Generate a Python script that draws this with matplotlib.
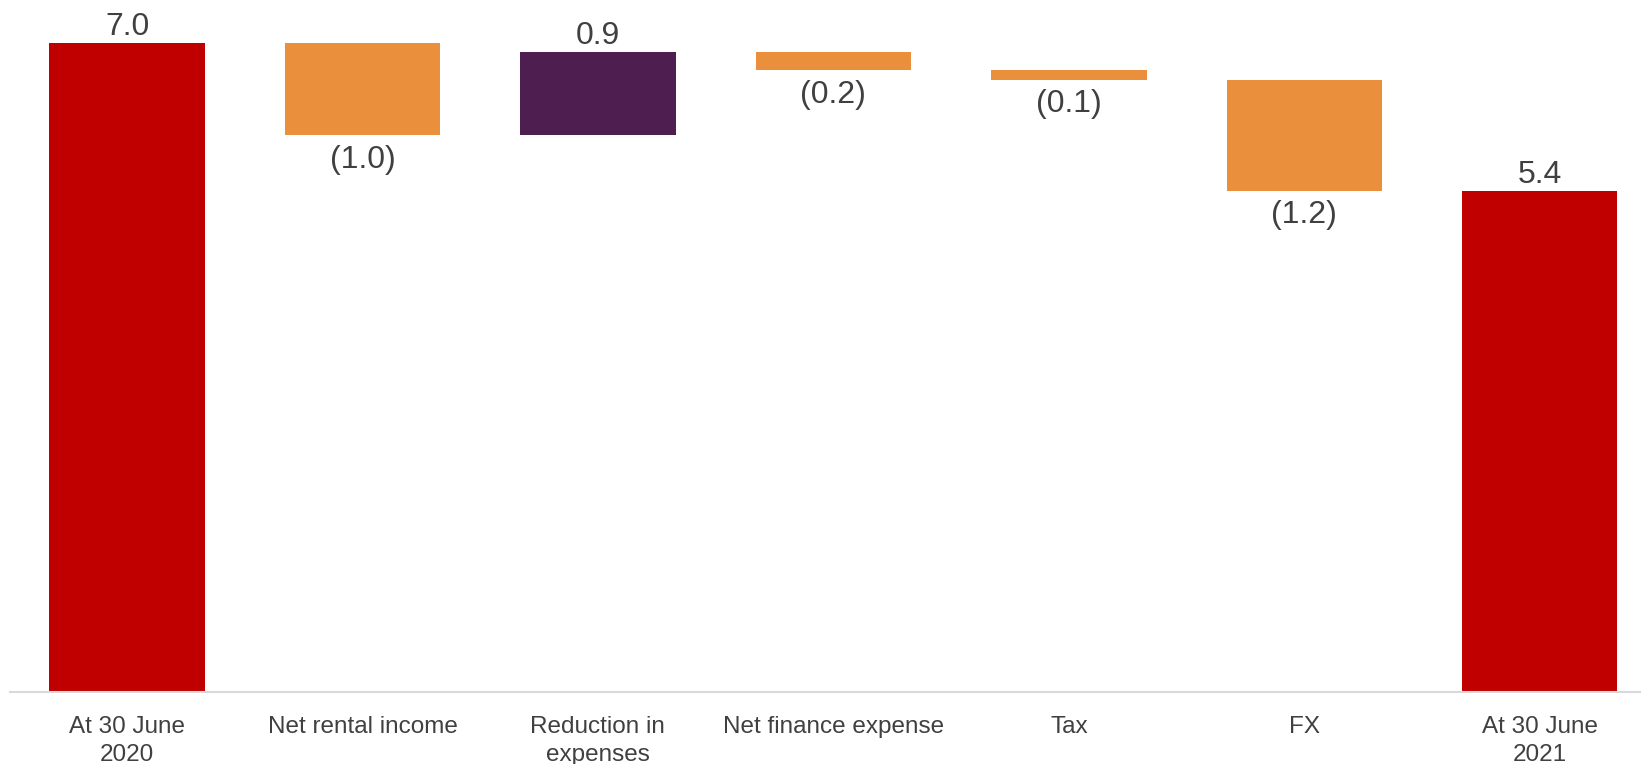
import matplotlib.pyplot as plt
import numpy as np

categories = ["At 30 June\n2020", "Net rental income", "Reduction in\nexpenses",
              "Net finance expense", "Tax", "FX", "At 30 June\n2021"]
changes = [7.0, -1.0, 0.9, -0.2, -0.1, -1.2, 5.4]
is_total = [True, False, False, False, False, False, True]

red = "#C00000"
orange = "#EA8F3B"
purple = "#4F1E50"
text_col = "#404040"

plt.rcParams['font.family'] = ['Liberation Sans', 'DejaVu Sans']

# waterfall bottoms / heights
bottoms, heights, colors = [], [], []
running = 0.0
for v, tot in zip(changes, is_total):
    if tot:
        bottoms.append(0.0)
        heights.append(v)
        colors.append(red)
        running = v
    else:
        if v >= 0:
            bottoms.append(running)
            heights.append(v)
            colors.append(purple)
        else:
            bottoms.append(running + v)
            heights.append(-v)
            colors.append(orange)
        running += v

fig = plt.figure(figsize=(16.41, 7.64), dpi=100)
ax = fig.add_axes([10 / 1641, 72 / 764, 1 - 10 / 1641, 1 - 72 / 764])

x = np.arange(len(categories))
ax.bar(x, heights, bottom=bottoms, width=0.66, color=colors, edgecolor="none")

for xi, v, b, h, tot in zip(x, changes, bottoms, heights, is_total):
    if v >= 0:
        ax.text(xi, b + h + 0.01, f"{v:.1f}", ha="center", va="bottom",
                fontsize=23, color=text_col)
    else:
        ax.text(xi, b - 0.1, f"({-v:.1f})", ha="center", va="top",
                fontsize=23, color=text_col)

ax.set_xlim(-0.497, 6.43)
ax.set_ylim(0, 7.46)
ax.set_xticks(x)
ax.set_xticklabels(categories, fontsize=17.5, color=text_col, linespacing=1.35)
ax.tick_params(axis="x", length=0, pad=17)
ax.set_yticks([])
for s in ["top", "right", "left"]:
    ax.spines[s].set_visible(False)
ax.spines["bottom"].set_color("#d9d9d9")
ax.spines["bottom"].set_linewidth(1.5)

fig.savefig("out.png", dpi=100)
